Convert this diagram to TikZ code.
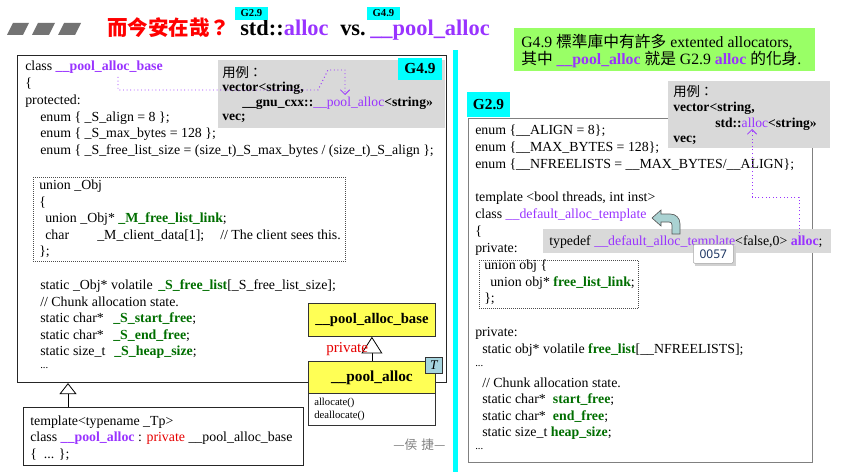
\documentclass[tikz,border=0pt]{standalone}
\usepackage{fontspec}
\setmainfont{Liberation Serif}
\newfontfamily\cjk{Noto Sans CJK TC}
\newfontfamily\uisans{Noto Sans}
\usetikzlibrary{arrows.meta,calc}
\definecolor{pur}{RGB}{153,51,255}
\definecolor{grn}{RGB}{0,110,0}
\definecolor{titred}{RGB}{255,0,0}
\definecolor{redtx}{RGB}{230,0,0}
\definecolor{cyanl}{RGB}{0,255,255}
\definecolor{greybx}{RGB}{217,217,217}
\definecolor{greenbx}{RGB}{153,255,102}
\definecolor{umly}{RGB}{255,255,85}
\definecolor{tbx}{RGB}{165,212,222}
\definecolor{arrfill}{RGB}{170,210,210}
\definecolor{titgray}{RGB}{115,115,115}
\definecolor{tipblue}{RGB}{30,55,100}
\newcommand\cPu[1]{\textcolor{pur}{#1}}
\newcommand\cPuB[1]{\textcolor{pur}{\textbf{#1}}}
\newcommand\cGr[1]{\textcolor{grn}{\textbf{#1}}}
\newcommand\cRd[1]{\textcolor{redtx}{#1}}
\begin{document}
\begin{tikzpicture}[x=0.75pt,y=-0.75pt,
  code/.style={anchor=west,inner sep=0pt,font=\fontsize{10.4}{12}\selectfont},
  ex/.style={anchor=west,inner sep=0pt,font=\fontsize{10.2}{11}\selectfont\bfseries},
  lab/.style={fill=cyanl,inner sep=0pt,font=\bfseries},
  boxnw/.style={anchor=north west,inner sep=0pt},
  dotcon/.style={draw=pur,dotted,line width=0.7pt},
  tipv/.style={-{Straight Barb[length=3.5pt,width=7pt,line width=0.6pt]}},
  inh/.style={-{Triangle[open,fill=white,width=15.75pt,length=12.5pt]},line width=0.6pt},
  inh2/.style={-{Triangle[open,fill=white,width=12.75pt,length=8.25pt]},line width=0.6pt},
]
\useasboundingbox (0,0) rectangle (841,474);

% ---------------- title
\fill[titgray] (13,23) -- (29,23) -- (23,35) -- (7,35) -- cycle;
\fill[titgray] (38,23) -- (55,23) -- (49,35) -- (32,35) -- cycle;
\fill[titgray] (64,23) -- (81,23) -- (75,35) -- (58,35) -- cycle;
\node[anchor=base west,inner sep=0pt,font=\cjk\bfseries\fontsize{15.4}{18}\selectfont,text=titred] (ttl) at (107,36) {而今安在哉？};
\node[anchor=base west,inner sep=0pt,font=\bfseries\fontsize{16.8}{18}\selectfont] (tstd) at (240,36) {std::\textcolor{pur}{alloc}};
\node[anchor=base west,inner sep=0pt,font=\bfseries\fontsize{16.8}{18}\selectfont] (tvs) at (340,36) {vs.};
\node[anchor=base west,inner sep=0pt,font=\bfseries\fontsize{16.8}{18}\selectfont] (tpool) at (370,36) {\textcolor{pur}{\_\_pool\_alloc}};
\node[lab,minimum width=24.75pt,minimum height=9.75pt,font=\bfseries\fontsize{8}{9}\selectfont] (g29t) at (251.5,13.5) {G2.9};
\node[lab,minimum width=24.75pt,minimum height=9.75pt,font=\bfseries\fontsize{8}{9}\selectfont] (g49t) at (383.5,13.5) {G4.9};

% ---------------- left big box
\node[boxnw,draw=black!85,line width=0.8pt,minimum width=321.75pt,minimum height=245.25pt] (lbox) at (17,55) {};
\node[boxnw,fill=greybx,minimum width=170.25pt,minimum height=51pt] (lgrey) at (218,60) {};
\node[lab,minimum width=33pt,minimum height=16.5pt,font=\bfseries\fontsize{11.5}{13}\selectfont] (lg49) at (420,69) {G4.9};
\node[boxnw,draw=black!70,densely dotted,line width=0.5pt,minimum width=234pt,minimum height=63pt] (lunion) at (33,177) {};

\node[code] (l1) at (25,67) {class \cPuB{\_\_pool\_alloc\_base}};
\node[code] (l2) at (25,84) {\{};
\node[code] (l3) at (25,101) {protected:};
\node[code] (l4) at (40,118) {enum \{ \_S\_align = 8 \};};
\node[code] (l5) at (40,134) {enum \{ \_S\_max\_bytes = 128 \};};
\node[code] (l6) at (40,151) {enum \{ \_S\_free\_list\_size = (size\_t)\_S\_max\_bytes / (size\_t)\_S\_align \};};
\node[code] (u1) at (39,186) {union \_Obj};
\node[code] (u2) at (39,203) {\{};
\node[code] (u3) at (45,219) {union \_Obj* \cGr{\_M\_free\_list\_link};};
\node[code] (u4) at (45,236) {\makebox[39pt][l]{char}\makebox[92.25pt][l]{\_M\_client\_data[1];}// The client sees this.};
\node[code] (u5) at (39,252) {\};};
\node[code] (l7) at (40,286) {\makebox[88.5pt][l]{static \_Obj* volatile}\cGr{\_S\_free\_list}[\_S\_free\_list\_size];};
\node[code] (l8) at (40,302) {// Chunk allocation state.};
\node[code] (l9) at (40,319) {\makebox[54.75pt][l]{static char*}\cGr{\_S\_start\_free};};
\node[code] (l10) at (40,336) {\makebox[54.75pt][l]{static char*}\cGr{\_S\_end\_free};};
\node[code] (l11) at (40,352) {\makebox[55.5pt][l]{static size\_t}\cGr{\_S\_heap\_size};};
\node[code,font=\fontsize{8}{9}\selectfont] (l12) at (40,368) {...};

\node[ex,font=\cjk\fontsize{10}{11}\selectfont] (e1) at (222,72) {用例：};
\node[ex] (e2) at (222,88) {vector<string,};
\node[ex] (e3) at (242,103) {\_\_gnu\_cxx::\textcolor{pur}{\mdseries\_\_pool\_alloc}<string>>};
\node[ex] (e4) at (222,118) {vec;};

% purple dotted connector (left)
\coordinate (da) at (118,77);
\coordinate (db) at (345,95);
\draw[dotcon,tipv] (da) -- (118,90) -- (318,90) -- (328,70) -- (345,70) -- (db);

% ---------------- bottom box
\node[boxnw,draw=black!85,line width=0.8pt,minimum width=210pt,minimum height=43.5pt] (bbox) at (23,407) {};
\node[code] (b1) at (30,422) {template<typename \_Tp>};
\node[code] (b2) at (30,438) {class \cPuB{\_\_pool\_alloc} : \cRd{private} \_\_pool\_alloc\_base};
\node[code] (b3) at (30,455) {\{\enspace ... \};};
\draw[inh2] ($(bbox.north west)+(45,0)$) coordinate (ib) -- (ib |- lbox.south);

% ---------------- UML
\node[boxnw,draw=black!80,line width=0.6pt,fill=umly,minimum width=95.25pt,minimum height=24.75pt,font=\bfseries\fontsize{11}{13}\selectfont] (ubase) at (308,303) {\_\_pool\_alloc\_base};
\node[boxnw,draw=black!80,line width=0.6pt,fill=umly,minimum width=95.25pt,minimum height=24pt,font=\bfseries\fontsize{11.5}{13}\selectfont] (upool) at (308,361) {\_\_pool\_alloc};
\node[boxnw,draw=black!80,line width=0.6pt,fill=white,minimum width=95.25pt,minimum height=24pt] (uops) at (308,393) {};
\node[anchor=west,inner sep=0pt,font=\fontsize{8}{9}\selectfont] (op1) at (314,403) {allocate()};
\node[anchor=west,inner sep=0pt,font=\fontsize{8}{9}\selectfont] (op2) at (314,416) {deallocate()};
\node[boxnw,draw=black!80,line width=0.5pt,fill=tbx,minimum width=12.75pt,minimum height=12pt,font=\itshape\fontsize{10}{11}\selectfont] (tpar) at (425,357) {T};
\draw[inh] (upool.north) -- (ubase.south);
\node[anchor=west,inner sep=0pt,text=redtx,font=\fontsize{11.3}{13}\selectfont] (priv) at (326,349) {private};
\node[anchor=west,inner sep=0pt,text=black!50,font=\cjk\fontsize{9.5}{11}\selectfont] (auth) at (393,445) {—侯\,\,捷—};

% ---------------- cyan bar
\fill[cyanl] (453,50) rectangle (458,472);

% ---------------- green note
\node[boxnw,fill=greenbx,minimum width=225.75pt,minimum height=32.25pt] (note) at (514,28) {};
\node[anchor=west,inner sep=0pt,font=\fontsize{11.8}{13}\selectfont] (n1) at (521,42) {G4.9 {\cjk 標準庫中有許多} extented allocators,};
\node[anchor=west,inner sep=0pt,font=\fontsize{11.8}{13}\selectfont] (n2) at (521,60) {{\cjk 其中} \cPuB{\_\_pool\_alloc} {\cjk 就是} G2.9 \cPuB{alloc} {\cjk 的化身}.};

% ---------------- right box
\node[lab,minimum width=32.25pt,minimum height=18.75pt,font=\bfseries\fontsize{11.5}{13}\selectfont] (rg29) at (488.5,104.5) {G2.9};
\node[boxnw,draw=black!50,line width=1pt,minimum width=258pt,minimum height=258pt] (rbox) at (468,118) {};
\node[boxnw,draw=black!70,densely dotted,line width=0.5pt,minimum width=119.25pt,minimum height=36pt] (runion) at (479,260) {};

\node[code] (r1) at (475,131) {enum \{\_\_ALIGN = 8\};};
\node[code] (r2) at (475,148) {enum \{\_\_MAX\_BYTES = 128\};};
\node[code] (r3) at (475,165) {enum \{\_\_NFREELISTS = \_\_MAX\_BYTES/\_\_ALIGN\};};
\node[code] (r4) at (475,198) {template <bool threads, int inst>};
\node[code] (r5) at (475,215) {class \cPu{\_\_default\_alloc\_template}};
\node[code] (r6) at (475,232) {\{};
\node[code] (r7) at (475,249) {private:};
\node[code] (ru1) at (484,266) {union obj \{};
\node[code] (ru2) at (490,283) {union obj* \cGr{free\_list\_link};};
\node[code] (ru3) at (484,299) {\};};
\node[code] (r8) at (475,333) {private:};
\node[code] (r9) at (482,350) {static obj* volatile \cGr{free\_list}[\_\_NFREELISTS];};
\node[code,font=\fontsize{8}{9}\selectfont] (r10) at (475,366) {...};
\node[code] (r11) at (482,383) {// Chunk allocation state.};
\node[code] (r12) at (482,400) {\makebox[53pt][l]{static char*}\cGr{start\_free};};
\node[code] (r13) at (482,417) {\makebox[53pt][l]{static char*}\cGr{end\_free};};
\node[code] (r14) at (482,433) {static size\_t \cGr{heap\_size};};
\node[code,font=\fontsize{8}{9}\selectfont] (r15) at (475,449) {...};

% right example box
\node[boxnw,fill=greybx,minimum width=121.5pt,minimum height=50.25pt] (rgrey) at (668,81) {};
\node[ex,font=\cjk\fontsize{10}{11}\selectfont] (re1) at (673,91) {用例：};
\node[ex] (re2) at (673,108) {vector<string,};
\node[ex] (re3) at (715,124) {std::\textcolor{pur}{\mdseries alloc}<string>>};
\node[ex] (re4) at (673,140) {vec;};

% typedef bar
\node[boxnw,fill=greybx,minimum width=216pt,minimum height=18pt] (tdbar) at (543,229) {};
\node[code] (td) at (549,242) {typedef \cPu{\_\_default\_alloc\_template}<false,0> \cPuB{alloc};};

% curved block arrow
\filldraw[fill=arrfill,draw=black!65,line width=0.5pt]
  (652,218) -- (661,210) -- (661,214) -- (670,214)
  .. controls (676,214) and (680,218) .. (680,224) -- (680,234) -- (672,234) -- (672,225)
  .. controls (672,223) and (671,222) .. (669,222) -- (661,222) -- (661,226) -- cycle;

% right purple dotted connector
\coordinate (dc) at (799,233);
\coordinate (dd) at (752,129);
\draw[dotcon,tipv] (dc) -- (799,197) -- (752,197) -- (dd);

% tooltip
\fill[black!18] (695,246) rectangle (736,266);
\node[boxnw,draw=black!35,fill=white,line width=0.4pt,rounded corners=1pt,minimum width=30pt,minimum height=14.25pt] (tip) at (693,244) {};
\node[inner sep=0pt,text=tipblue,font=\uisans\fontsize{9}{10}\selectfont] (tiptx) at (tip.center) {0057};
\end{tikzpicture}
\end{document}
